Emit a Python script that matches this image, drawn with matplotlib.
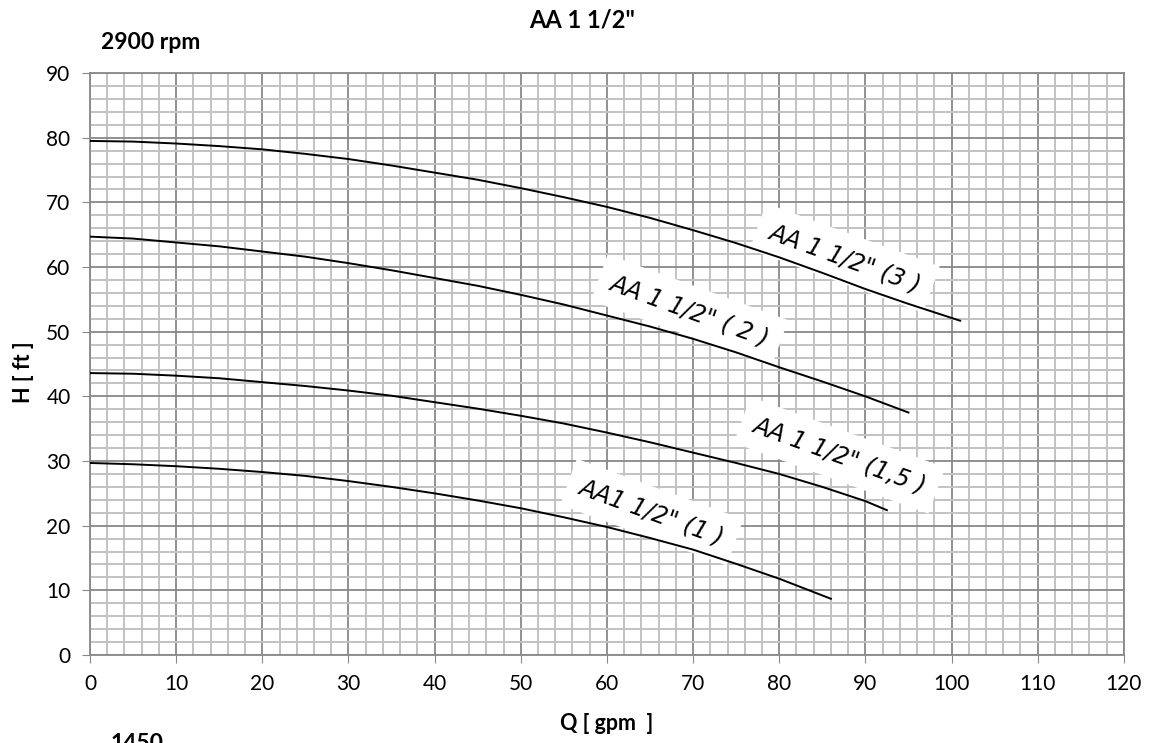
import matplotlib
matplotlib.use("Agg")
import matplotlib.pyplot as plt
from matplotlib.ticker import MultipleLocator

q3 = [0, 5, 10, 15, 20, 25, 30, 35, 40, 45, 50, 55, 60, 65, 70, 75, 80, 85, 90, 95, 101]
h3 = [79.5, 79.4, 79.1, 78.7, 78.2, 77.5, 76.7, 75.7, 74.6, 73.5, 72.2, 70.8, 69.3, 67.6,
      65.7, 63.7, 61.5, 59.1, 56.6, 54.3, 51.7]
q2 = [0, 5, 10, 15, 20, 25, 30, 35, 40, 45, 50, 55, 60, 65, 70, 75, 80, 85, 90, 95]
h2 = [64.7, 64.4, 63.8, 63.2, 62.4, 61.6, 60.6, 59.5, 58.3, 57.1, 55.7, 54.2, 52.5, 50.8,
      48.9, 46.8, 44.5, 42.3, 40.0, 37.5]
q15 = [0, 5, 10, 15, 20, 25, 30, 35, 40, 45, 50, 55, 60, 65, 70, 75, 80, 85, 90, 92.5]
h15 = [43.6, 43.5, 43.2, 42.8, 42.2, 41.6, 40.9, 40.1, 39.1, 38.1, 37.0, 35.8, 34.4, 32.9,
       31.3, 29.7, 28.0, 26.0, 23.8, 22.4]
q1 = [0, 5, 10, 15, 20, 25, 30, 35, 40, 45, 50, 55, 60, 65, 70, 75, 80, 86]
h1 = [29.7, 29.5, 29.2, 28.8, 28.3, 27.7, 26.9, 26.0, 25.0, 23.9, 22.7, 21.3, 19.8, 18.1,
      16.3, 14.1, 11.8, 8.7]

labels = ['AA 1 1/2" (3 )', 'AA 1 1/2" ( 2 )', 'AA 1 1/2" (1,5 )', 'AA1 1/2" (1 )']
label_pos = [(87.6, 61.4), (69.6, 53.3), (87.0, 30.9), (65.2, 22.1)]

fig = plt.figure(figsize=(11.61, 7.43), dpi=100)
ax = fig.add_axes([0.0775, 0.1184, 0.8905, 0.7833])
ax.set_xlim(0, 120)
ax.set_ylim(0, 90)
ax.xaxis.set_major_locator(MultipleLocator(10))
ax.yaxis.set_major_locator(MultipleLocator(10))
ax.xaxis.set_minor_locator(MultipleLocator(2))
ax.yaxis.set_minor_locator(MultipleLocator(2))
ax.grid(which='minor', color='#c2c2c2', linewidth=1.4)
ax.grid(which='major', color='#888888', linewidth=1.3)
ax.set_axisbelow(True)
for s in ax.spines.values():
    s.set_color('#888888')
    s.set_linewidth(1.3)
ax.tick_params(which='major', length=6, color='#888888', labelsize=15, pad=8)
ax.tick_params(which='minor', length=0)
for lab in ax.get_xticklabels() + ax.get_yticklabels():
    lab.set_family('Lato')

for q, h in [(q3, h3), (q2, h2), (q15, h15), (q1, h1)]:
    ax.plot(q, h, color='black', linewidth=1.4, zorder=3)

for txt, (x, y) in zip(labels, label_pos):
    ax.text(x, y, txt, rotation=-20, ha='center', va='center', fontsize=17,
            style='italic', family='DejaVu Sans', zorder=2,
            bbox=dict(facecolor='white', edgecolor='none', pad=9))

ax.set_xlabel('Q [ gpm  ]', fontsize=15.5, fontweight='bold', family='Lato')
ax.xaxis.set_label_coords(0.5, -0.10)
ax.set_ylabel('H [ ft ]', fontsize=15.5, fontweight='bold', family='Lato')
ax.yaxis.set_label_coords(-0.054, 0.486)
fig.text(0.501, 0.973, 'AA 1 1/2"', ha='center', va='center', fontsize=17,
         fontweight='bold', family='Lato')
fig.text(0.130, 0.943, '2900 rpm', ha='center', va='center', fontsize=16.5,
         fontweight='bold', family='Lato')
fig.text(0.118, 0.0, '1450', ha='center', va='center', fontsize=16.5,
         fontweight='bold', family='Lato')

fig.savefig('out.png', dpi=100)
